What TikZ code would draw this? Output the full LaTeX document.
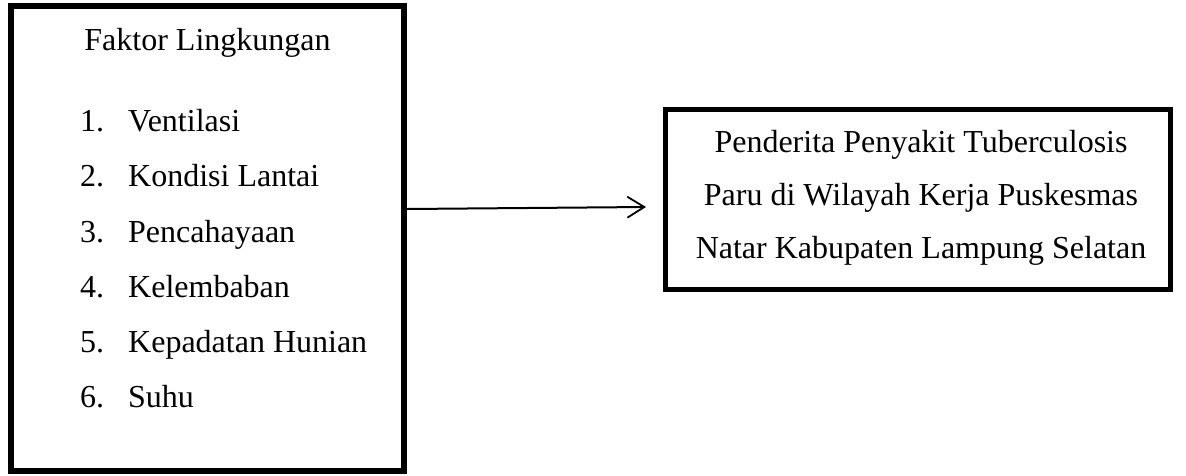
\documentclass[tikz,border=0pt]{standalone}
\usepackage{fontspec}
\setmainfont{Liberation Serif}
\usetikzlibrary{arrows.meta}
\begin{document}
\begin{tikzpicture}[x=1pt,y=-1pt,
  box/.style={draw=black,rectangle,inner sep=0pt},
  txt/.style={inner sep=0pt,font=\fontsize{32}{38}\selectfont},
  num/.style={txt,anchor=base west},
  item/.style={txt,anchor=base west},
  ctr/.style={txt,anchor=base},
  conn/.style={line width=2pt,-{Straight Barb[length=17pt,width=21pt,line width=1.8pt]}}]
\useasboundingbox (0,0) rectangle (1186,475);
\node[box,line width=5.5pt,minimum width=393pt,minimum height=465pt] (L) at (207.5,238.5) {};
\node[box,line width=5pt,minimum width=505pt,minimum height=180pt] (R) at (917.5,199.5) {};
\node[ctr] (t0) at (207.5,50) {Faktor Lingkungan};
\node[num] (n1) at (80,131) {1.};
\node[item] (i1) at (128,131) {Ventilasi};
\node[num] (n2) at (80,186.5) {2.};
\node[item] (i2) at (128,186.5) {Kondisi Lantai};
\node[num] (n3) at (80,242) {3.};
\node[item] (i3) at (128,242) {Pencahayaan};
\node[num] (n4) at (80,297) {4.};
\node[item] (i4) at (128,297) {Kelembaban};
\node[num] (n5) at (80,352) {5.};
\node[item] (i5) at (128,352) {Kepadatan Hunian};
\node[num] (n6) at (80,407) {6.};
\node[item] (i6) at (128,407) {Suhu};
\node[ctr] (r1) at (921,152) {Penderita Penyakit Tuberculosis};
\node[ctr] (r2) at (921,205) {Paru di Wilayah Kerja Puskesmas};
\node[ctr] (r3) at (921,258) {Natar Kabupaten Lampung Selatan};
\coordinate (ae) at (646,207);
\draw[conn] ([yshift=29.5pt]L.east) -- (ae);
\end{tikzpicture}
\end{document}
